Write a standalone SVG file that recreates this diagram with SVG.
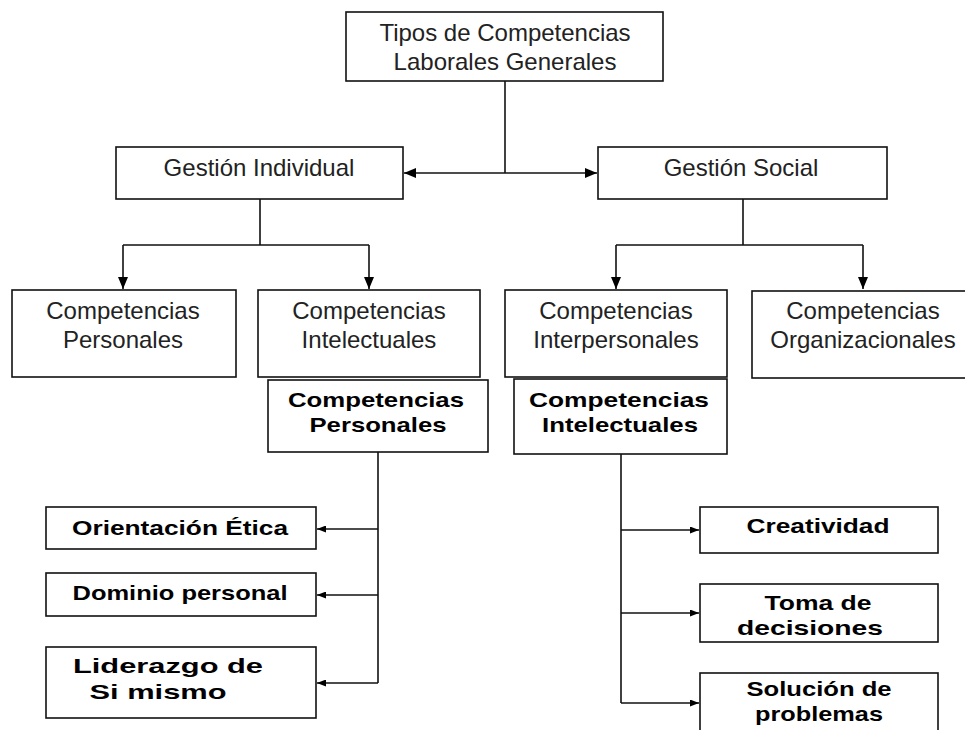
<svg xmlns="http://www.w3.org/2000/svg" width="965" height="730" viewBox="0 0 965 730">
<style>
  .box { fill: #fff; stroke: #111; stroke-width: 1.6; }
  .reg { font-family: "Liberation Sans", Arial, sans-serif; font-size: 24px; fill: #222; text-anchor: middle; }
  .bold { font-family: "Liberation Sans", Arial, sans-serif; font-size: 21px; font-weight: bold; fill: #000; text-anchor: middle; }
  .ln { fill: none; stroke: #111; stroke-width: 1.6; }
</style>
<defs>
  <marker id="ah" viewBox="0 0 12 10" refX="12" refY="5" markerWidth="12" markerHeight="10" markerUnits="userSpaceOnUse" orient="auto">
    <path d="M0,0 L12,5 L0,10 z" fill="#000"/>
  </marker>
  <marker id="as" viewBox="0 0 9 7" refX="9" refY="3.5" markerWidth="9" markerHeight="7" markerUnits="userSpaceOnUse" orient="auto">
    <path d="M0,0 L9,3.5 L0,7 z" fill="#000"/>
  </marker>
</defs>
<rect width="965" height="730" fill="#fff"/>

<g id="connectors">
  <path class="ln" d="M505,81 V173"/>
  <path class="ln" d="M505,173 H404" marker-end="url(#ah)"/>
  <path class="ln" d="M505,173 H597" marker-end="url(#ah)"/>
  <path class="ln" d="M260,199 V245 M123,245 H369"/>
  <path class="ln" d="M123,245 V289" marker-end="url(#ah)"/>
  <path class="ln" d="M369,245 V289" marker-end="url(#ah)"/>
  <path class="ln" d="M743,199 V245 M616,245 H863"/>
  <path class="ln" d="M616,245 V289" marker-end="url(#ah)"/>
  <path class="ln" d="M863,245 V289" marker-end="url(#ah)"/>
  <path class="ln" d="M378,452 V683"/>
  <path class="ln" d="M378,529 H317" marker-end="url(#as)"/>
  <path class="ln" d="M378,595 H317" marker-end="url(#as)"/>
  <path class="ln" d="M378,683 H317" marker-end="url(#as)"/>
  <path class="ln" d="M621,454 V703"/>
  <path class="ln" d="M621,530 H699" marker-end="url(#as)"/>
  <path class="ln" d="M621,613 H699" marker-end="url(#as)"/>
  <path class="ln" d="M621,703 H699" marker-end="url(#as)"/>
</g>

<g id="n-tipos">
  <rect class="box" x="346" y="12" width="317" height="69"/>
  <text class="reg" x="505" y="41">Tipos de Competencias</text>
  <text class="reg" x="505" y="70">Laborales Generales</text>
</g>
<g id="n-gestion-individual">
  <rect class="box" x="116" y="147" width="287" height="52"/>
  <text class="reg" x="259" y="176">Gestión Individual</text>
</g>
<g id="n-gestion-social">
  <rect class="box" x="598" y="147" width="289" height="52"/>
  <text class="reg" x="741" y="176">Gestión Social</text>
</g>
<g id="n-comp-personales">
  <rect class="box" x="12" y="290" width="224" height="87"/>
  <text class="reg" x="123" y="319">Competencias</text>
  <text class="reg" x="123" y="348">Personales</text>
</g>
<g id="n-comp-intelectuales">
  <rect class="box" x="258" y="290" width="222" height="87"/>
  <text class="reg" x="369" y="319">Competencias</text>
  <text class="reg" x="369" y="348">Intelectuales</text>
</g>
<g id="n-comp-interpersonales">
  <rect class="box" x="505" y="290" width="222" height="87"/>
  <text class="reg" x="616" y="319">Competencias</text>
  <text class="reg" x="616" y="348">Interpersonales</text>
</g>
<g id="n-comp-organizacionales">
  <rect class="box" x="752" y="291" width="230" height="87"/>
  <text class="reg" x="863" y="319">Competencias</text>
  <text class="reg" x="863" y="348">Organizacionales</text>
</g>
<g id="n-b-personales">
  <rect class="box" x="268" y="380" width="220" height="72"/>
  <text class="bold" x="376" y="407" textLength="176" lengthAdjust="spacingAndGlyphs">Competencias</text>
  <text class="bold" x="378" y="432" textLength="137" lengthAdjust="spacingAndGlyphs">Personales</text>
</g>
<g id="n-b-intelectuales">
  <rect class="box" x="514" y="379" width="213" height="75"/>
  <text class="bold" x="619" y="407" textLength="180" lengthAdjust="spacingAndGlyphs">Competencias</text>
  <text class="bold" x="620" y="432" textLength="156" lengthAdjust="spacingAndGlyphs">Intelectuales</text>
</g>
<g id="n-orientacion">
  <rect class="box" x="46" y="507" width="270" height="42"/>
  <text class="bold" x="180" y="535" textLength="216" lengthAdjust="spacingAndGlyphs">Orientación Ética</text>
</g>
<g id="n-dominio">
  <rect class="box" x="46" y="573" width="270" height="43"/>
  <text class="bold" x="180" y="600" textLength="215" lengthAdjust="spacingAndGlyphs">Dominio personal</text>
</g>
<g id="n-liderazgo">
  <rect class="box" x="46" y="647" width="270" height="71"/>
  <text class="bold" x="168" y="673" textLength="190" lengthAdjust="spacingAndGlyphs">Liderazgo de</text>
  <text class="bold" x="158" y="699" textLength="137" lengthAdjust="spacingAndGlyphs">Si mismo</text>
</g>
<g id="n-creatividad">
  <rect class="box" x="700" y="507" width="238" height="46"/>
  <text class="bold" x="818" y="533" textLength="143" lengthAdjust="spacingAndGlyphs">Creatividad</text>
</g>
<g id="n-toma">
  <rect class="box" x="700" y="584" width="238" height="58"/>
  <text class="bold" x="818" y="610" textLength="107" lengthAdjust="spacingAndGlyphs">Toma de</text>
  <text class="bold" x="810" y="635" textLength="146" lengthAdjust="spacingAndGlyphs">decisiones</text>
</g>
<g id="n-solucion">
  <rect class="box" x="700" y="673" width="238" height="70"/>
  <text class="bold" x="819" y="696" textLength="145" lengthAdjust="spacingAndGlyphs">Solución de</text>
  <text class="bold" x="819" y="721" textLength="128" lengthAdjust="spacingAndGlyphs">problemas</text>
</g>
</svg>
